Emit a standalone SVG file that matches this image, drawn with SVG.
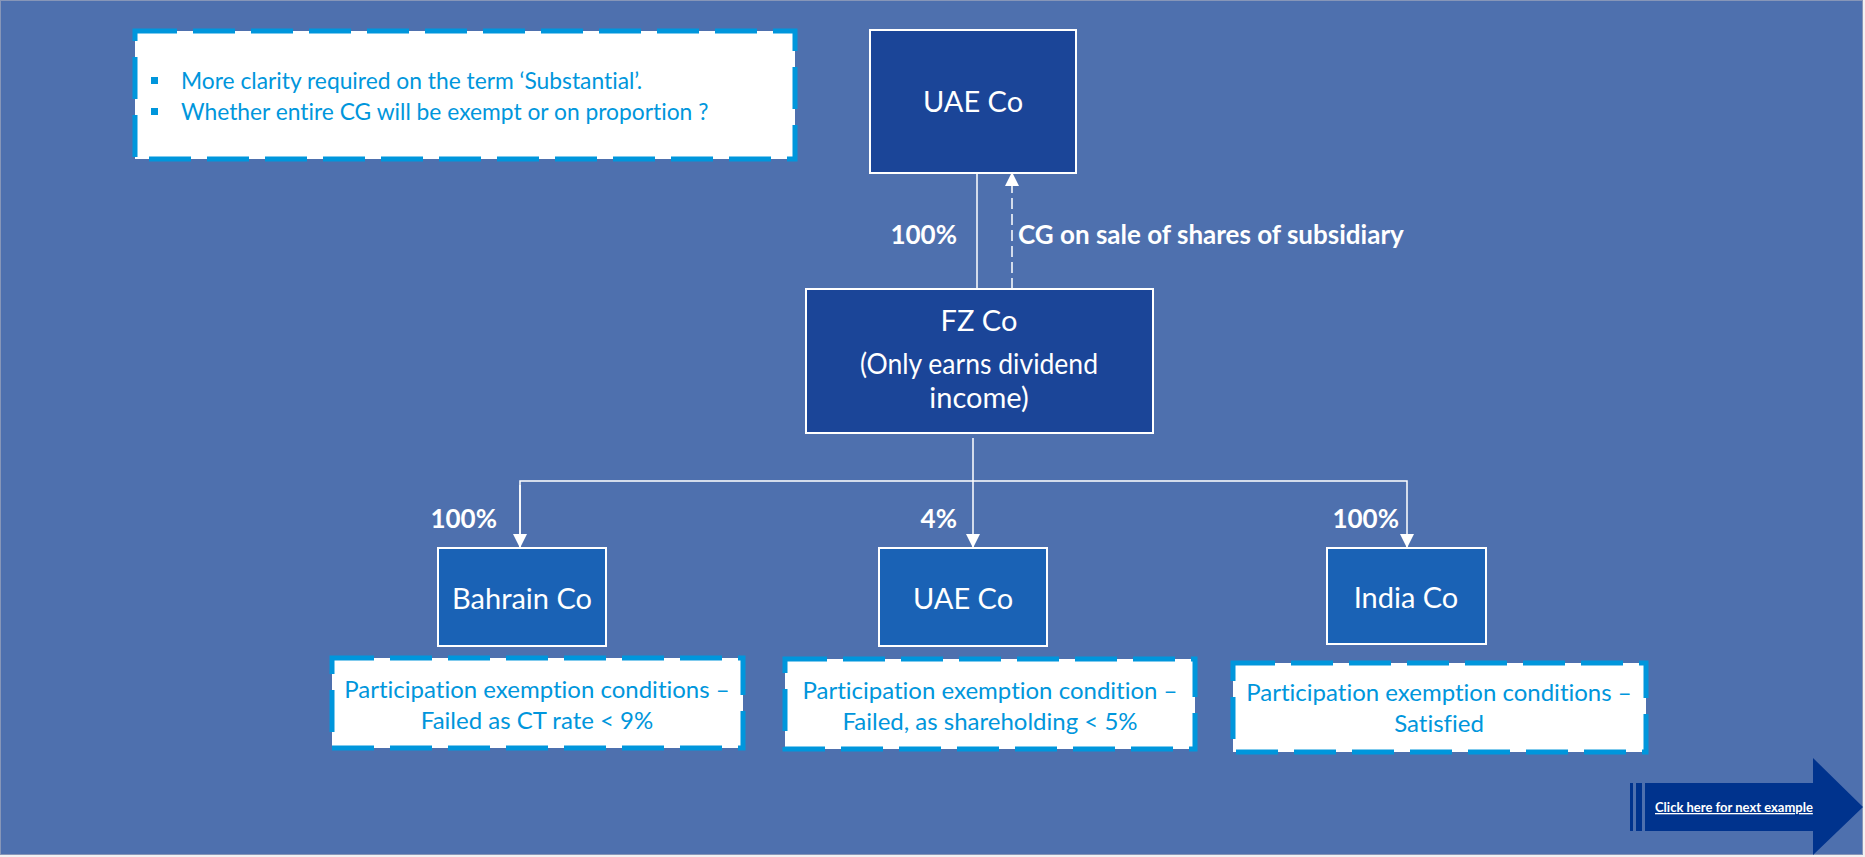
<svg xmlns="http://www.w3.org/2000/svg" width="1865" height="857" viewBox="0 0 1865 857">
  <style>
    text { font-variant-ligatures: none; font-feature-settings: "liga" 0, "clig" 0; }
    .bg { fill: #4E70AE; stroke: #8796B8; stroke-width: 1; }
    .box-dark { fill: #1B4598; stroke: #FFFFFF; stroke-width: 2; }
    .box-mid { fill: #1A62B5; stroke: #FFFFFF; stroke-width: 2; }
    .note { fill: #FFFFFF; stroke: #0096DC; stroke-width: 5; stroke-dasharray: 42 16; }
    .node-text { font-family: Lato, "Liberation Sans", sans-serif; font-size: 29px; fill: #FFFFFF; text-anchor: middle; }
    .label { font-family: Lato, "Liberation Sans", sans-serif; font-size: 26px; font-weight: bold; fill: #FFFFFF; }
    .note-text { font-family: Lato, "Liberation Sans", sans-serif; font-size: 24px; fill: #0096DC; }
    .note-text-sm { font-family: Lato, "Liberation Sans", sans-serif; font-size: 22.8px; fill: #0096DC; }
    .link { stroke: #FFFFFF; stroke-width: 1.5; fill: none; }
    .link-dash { stroke: #FFFFFF; stroke-width: 1.5; fill: none; stroke-dasharray: 11 5; }
    .bullet { fill: #0096DC; }
    .btn { fill: #00338D; }
    .btn-text { font-family: Lato, "Liberation Sans", sans-serif; font-size: 13px; font-weight: bold; fill: #FFFFFF; text-decoration: underline; }
  </style>
  <defs>
    <marker id="arrow" viewBox="0 0 14 14" refX="14" refY="7" markerWidth="14" markerHeight="14" markerUnits="userSpaceOnUse" orient="auto">
      <path d="M0,0 L14,7 L0,14 Z" fill="#FFFFFF"/>
    </marker>
  </defs>

  <!-- page -->
  <rect width="1865" height="857" fill="#F2F2F2"/>
  <rect class="bg" x="0.5" y="0.5" width="1862" height="854"/>

  <!-- open questions note -->
  <g id="note-questions">
    <rect class="note" x="135" y="31" width="660" height="128"/>
    <rect class="bullet" x="151" y="77" width="7" height="7"/>
    <rect class="bullet" x="151" y="108" width="7" height="7"/>
    <text class="note-text-sm" x="181" y="89">More clarity required on the term ‘Substantial’.</text>
    <text class="note-text-sm" x="181" y="120">Whether entire CG will be exempt or on proportion ?</text>
  </g>

  <!-- connectors -->
  <g id="connectors">
    <line class="link" x1="977" y1="174" x2="977" y2="289"/>
    <line class="link-dash" x1="1012" y1="289" x2="1012" y2="172" marker-end="url(#arrow)"/>
    <line class="link" x1="973" y1="438" x2="973" y2="548" marker-end="url(#arrow)"/>
    <polyline class="link" points="520,548 520,481 1407,481 1407,548" marker-end="url(#arrow)"/>
    <line class="link" x1="520" y1="485" x2="520" y2="548" marker-end="url(#arrow)"/>
    <text class="label" x="957" y="244" text-anchor="end">100%</text>
    <text class="label" x="1018" y="244">CG on sale of shares of subsidiary</text>
    <text class="label" x="497" y="528" text-anchor="end">100%</text>
    <text class="label" x="957" y="528" text-anchor="end">4%</text>
    <text class="label" x="1399" y="528" text-anchor="end">100%</text>
  </g>

  <g id="uae-co-parent">
    <rect class="box-dark" x="870" y="30" width="206" height="143"/>
    <text class="node-text" x="973" y="112">UAE Co</text>
  </g>

  <g id="fz-co">
    <rect class="box-dark" x="806" y="289" width="347" height="144"/>
    <text class="node-text" x="979" y="331">FZ Co</text>
    <text class="node-text" x="979" y="374" textLength="238" lengthAdjust="spacingAndGlyphs">(Only earns dividend</text>
    <text class="node-text" x="979" y="408">income)</text>
  </g>

  <g id="bahrain-co">
    <rect class="box-mid" x="438" y="548" width="168" height="98"/>
    <text class="node-text" x="522" y="609">Bahrain Co</text>
  </g>

  <g id="uae-co-sub">
    <rect class="box-mid" x="879" y="548" width="168" height="98"/>
    <text class="node-text" x="963" y="609">UAE Co</text>
  </g>

  <g id="india-co">
    <rect class="box-mid" x="1327" y="548" width="159" height="96"/>
    <text class="node-text" x="1406" y="608">India Co</text>
  </g>

  <g id="note-bahrain">
    <rect class="note" x="332" y="658" width="411" height="90"/>
    <text class="note-text" x="537" y="698" text-anchor="middle">Participation exemption conditions –</text>
    <text class="note-text" x="537" y="729" text-anchor="middle">Failed as CT rate &lt; 9%</text>
  </g>

  <g id="note-uae">
    <rect class="note" x="785" y="659" width="410" height="90"/>
    <text class="note-text" x="990" y="699" text-anchor="middle">Participation exemption condition –</text>
    <text class="note-text" x="990" y="730" text-anchor="middle">Failed, as shareholding &lt; 5%</text>
  </g>

  <g id="note-india">
    <rect class="note" x="1233" y="663" width="413" height="89"/>
    <text class="note-text" x="1439" y="701" text-anchor="middle">Participation exemption conditions –</text>
    <text class="note-text" x="1439" y="732" text-anchor="middle">Satisfied</text>
  </g>

  <!-- next example button -->
  <g id="next-button">
    <rect class="btn" x="1630" y="783" width="3" height="48"/>
    <rect class="btn" x="1636" y="783" width="6" height="48"/>
    <path class="btn" d="M1645,783 L1813,783 L1813,758 L1863,807 L1813,855 L1813,831 L1645,831 Z"/>
    <text class="btn-text" x="1655" y="812">Click here for next example</text>
  </g>
</svg>
